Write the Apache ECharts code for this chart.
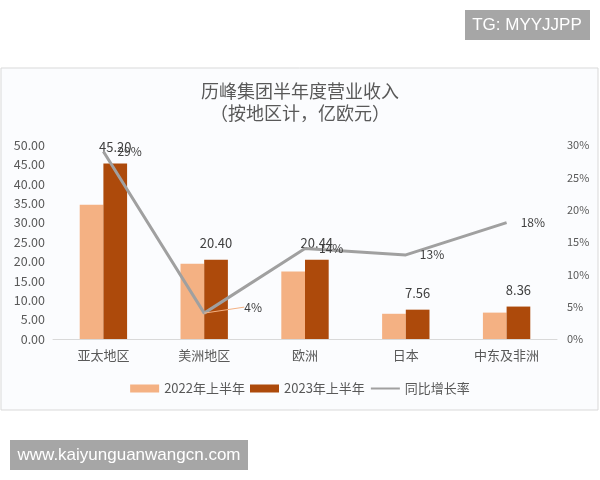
<!DOCTYPE html>
<html>
<head>
<meta charset="utf-8">
<script src="https://cdn.jsdelivr.net/npm/echarts@6/dist/echarts.min.js"></script>
<style>
html,body{margin:0;padding:0;background:#fff;}
#main{width:600px;height:480px;}
</style>
</head>
<body>
<div id="main"></div>
<script>
const categories=['亚太地区','美洲地区','欧洲','日本','中东及非洲'];
const h1_2022=[34.6,19.4,17.4,6.5,6.8];
const h1_2023=[45.20,20.40,20.44,7.56,8.36];
const growth=[29,4,14,13,18];

const font='"Noto Sans CJK SC", "Noto Sans", sans-serif';
const wmFont='"Liberation Sans", Arial, sans-serif';
const chart=echarts.init(document.getElementById('main'));

const option={
    backgroundColor:'#fff',
    textStyle:{fontFamily:font},
    title:{
        text:'历峰集团半年度营业收入\n（按地区计，亿欧元）',
        left:'center',
        top:75,
        textStyle:{
            color:'#595959',
            fontSize:18,
            fontWeight:'normal',
            lineHeight:22,
            fontFamily:font
        }
    },
    graphic:[
        {type:'rect',z:-10,shape:{x:1,y:68,width:597,height:342},
         style:{fill:'#fbfcfe',stroke:'#d9d9d9',lineWidth:1}},
        {type:'rect',shape:{x:465,y:10,width:125,height:30},style:{fill:'#a6a6a6'}},
        {type:'text',x:527,y:25,style:{text:'TG: MYYJJPP',fill:'#fff',font:'17px '+wmFont,align:'center',verticalAlign:'middle'}},
        {type:'rect',shape:{x:10,y:440,width:238,height:30},style:{fill:'#a6a6a6'}},
        {type:'text',x:129,y:455,style:{text:'www.kaiyunguanwangcn.com',fill:'#fff',font:'17px '+wmFont,align:'center',verticalAlign:'middle'}}
    ],
    legend:{
        bottom:80,
        left:'center',
        itemWidth:29,
        itemHeight:8,
        itemGap:5,
        textStyle:{color:'#595959',fontSize:13},
        data:[
            {name:'2022年上半年',icon:'rect'},
            {name:'2023年上半年',icon:'rect'},
            {name:'同比增长率',itemStyle:{opacity:0}}
        ]
    },
    grid:{left:53,right:43,top:145,bottom:141},
    xAxis:{
        type:'category',
        data:categories,
        axisTick:{show:false},
        axisLine:{lineStyle:{color:'#d9d9d9'}},
        axisLabel:{color:'#595959',fontSize:13,margin:10}
    },
    yAxis:[
        {
            type:'value',min:0,max:50,interval:5,
            splitLine:{show:false},
            axisLabel:{color:'#595959',fontSize:12.5,formatter:v=>v.toFixed(2)}
        },
        {
            type:'value',min:0,max:30,interval:5,
            splitLine:{show:false},
            axisLabel:{color:'#595959',fontSize:11,formatter:'{value}%',margin:10}
        }
    ],
    series:[
        {
            name:'2022年上半年',
            type:'bar',
            data:h1_2022,
            barGap:'0%',
            barCategoryGap:'53%',
            itemStyle:{color:'#f4b183'}
        },
        {
            name:'2023年上半年',
            type:'bar',
            data:h1_2023,
            itemStyle:{color:'#ad4a0b'},
            label:{
                show:true,
                position:'top',
                distance:10,
                color:'#404040',
                fontSize:13,
                formatter:p=>p.value.toFixed(2)
            }
        },
        {
            name:'同比增长率',
            type:'line',
            yAxisIndex:1,
            data:growth.map((v,i)=>i===1?{value:v,labelLine:{show:true,lineStyle:{color:'#f4b183',width:1}}}:v),
            symbol:'circle',
            symbolSize:0.1,
            showSymbol:true,
            lineStyle:{color:'#a0a0a0',width:3},
            itemStyle:{color:'#a0a0a0'},
            z:5,
            labelLayout:p=>p.dataIndex===1?{dx:26,dy:-6,hideOverlap:false}:{hideOverlap:false},
            label:{
                show:true,
                position:'right',
                distance:14,
                color:'#404040',
                fontSize:12,
                formatter:'{c}%'
            }
        }
    ]
};

chart.setOption(option);
</script>
</body>
</html>
